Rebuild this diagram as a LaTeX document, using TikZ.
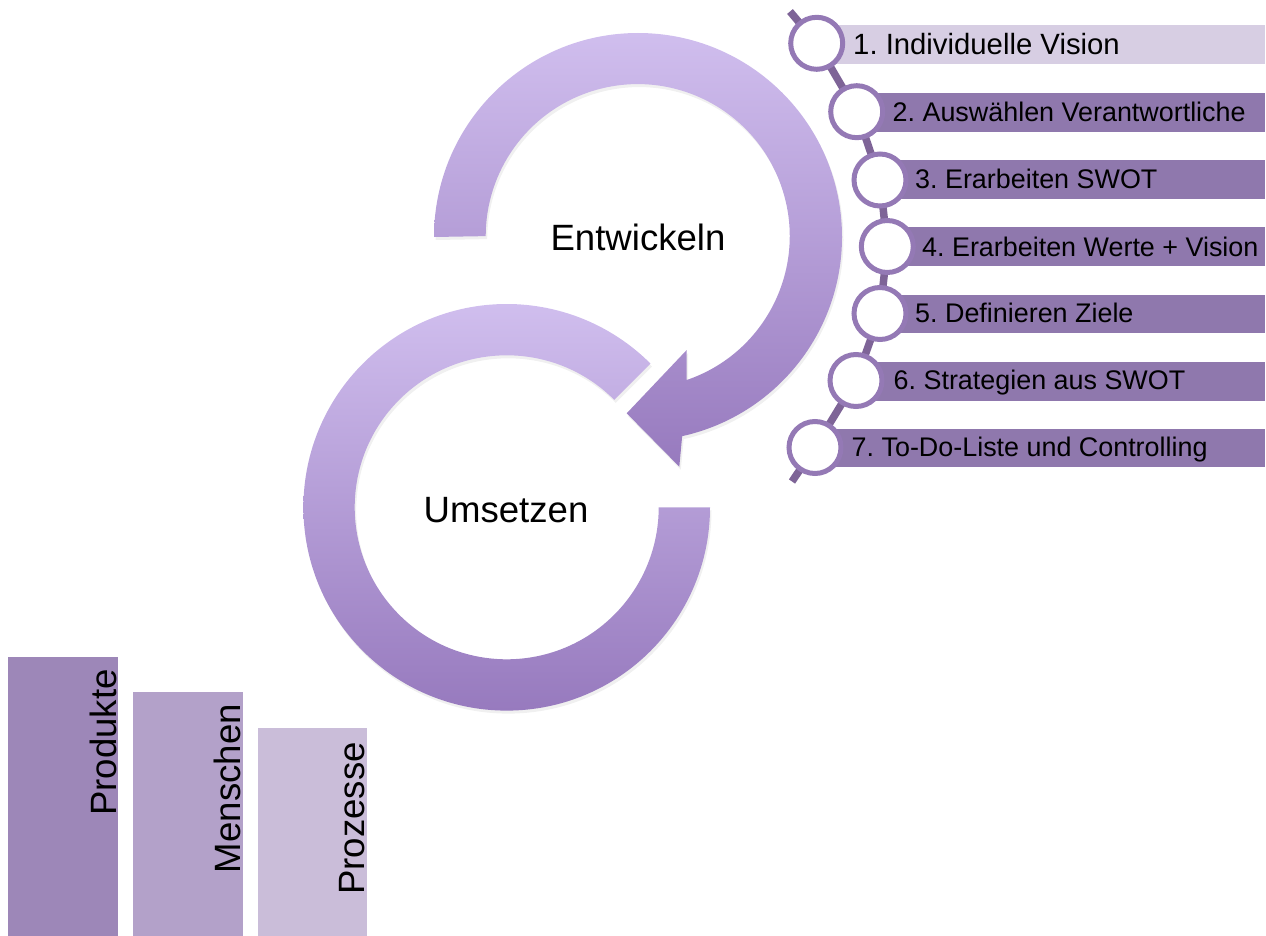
\documentclass[tikz,border=0pt]{standalone}
\usepackage{fontspec}
\setmainfont{Liberation Sans}
\usetikzlibrary{shadows}
\frenchspacing

\definecolor{arclight}{HTML}{D0BEEE}
\definecolor{arcdark}{HTML}{977ABE}
\definecolor{barpale}{HTML}{D7CEE3}
\definecolor{barmid}{HTML}{8F78AD}
\definecolor{ringcol}{HTML}{9479B5}
\definecolor{spinecol}{HTML}{7E6497}
\definecolor{colA}{HTML}{9D87B8}
\definecolor{colB}{HTML}{B3A1C9}
\definecolor{colC}{HTML}{CABDD9}

\tikzset{
  arcshape/.style={top color=arclight, bottom color=arcdark, draw=none,
    drop shadow={opacity=0.12, shadow xshift=1.5pt, shadow yshift=-3pt}},
  bigtext/.style={inner sep=0pt, font=\fontsize{36.6}{40}\selectfont},
  itemtext/.style={inner sep=0pt, anchor=base west, font=\fontsize{26.9}{30}\selectfont},
  ring/.style={circle, draw=ringcol, line width=5pt, fill=white,
    minimum size=52pt, inner sep=0pt},
  listbar/.style={fill=barmid},
  coltext/.style={rotate=90, anchor=base east, inner sep=0pt,
    font=\fontsize{36.6}{40}\selectfont}
}

\begin{document}
\begin{tikzpicture}[x=1pt, y=1pt]
\useasboundingbox (0,0) rectangle (1266,-936);

% lower loop: Umsetzen
\path[arcshape] (710,-507.3) arc[start angle=0, end angle=-315, radius=203.3]
  -- ++(225:51.3) arc[start angle=45, end angle=360, radius=152] -- cycle;
\node[bigtext, anchor=base] (umsetzen) at (506,-522.7) {Umsetzen};

% upper loop with arrow head: Entwickeln
\path[arcshape] (434,-237) arc[start angle=180, end angle=-77.5, radius=204]
  -- (679.3,-466.7) -- (626.7,-413.3) -- (686.7,-350) -- (686.7,-380)
  arc[start angle=-71.2, end angle=180, radius=152] -- cycle;
\node[bigtext, anchor=base] (entwickeln) at (638,-250) {Entwickeln};

% step list: circle markers on a curved spine
\coordinate (top) at (790,-11.5);
\coordinate (bottom) at (792,-481.5);
\coordinate (p1) at (816.7,-43.3);
\coordinate (p2) at (856.7,-111.7);
\coordinate (p3) at (880,-180);
\coordinate (p4) at (887.3,-246.5);
\coordinate (p5) at (880,-313.5);
\coordinate (p6) at (856,-380.5);
\coordinate (p7) at (815,-447.5);

\draw[spinecol, line width=7.5pt] (top) -- (p1) -- (p2) -- (p3) -- (p4)
  -- (p5) -- (p6) -- (p7) -- (bottom);

% bars behind the labels
\fill[barpale] (816.7,-25) rectangle (1265,-64);
\fill[listbar] (856.7,-92.7) rectangle (1265,-131.7);
\fill[listbar] (880,-160) rectangle (1265,-198.7);
\fill[listbar] (887.3,-227.5) rectangle (1265,-266);
\fill[listbar] (880,-294.5) rectangle (1265,-333);
\fill[listbar] (856,-361.7) rectangle (1265,-400.5);
\fill[listbar] (815,-428.5) rectangle (1265,-467.3);

\node[ring] (c1) at (p1) {};
\node[ring] (c2) at (p2) {};
\node[ring] (c3) at (p3) {};
\node[ring] (c4) at (p4) {};
\node[ring] (c5) at (p5) {};
\node[ring] (c6) at (p6) {};
\node[ring] (c7) at (p7) {};

\node[itemtext, font=\fontsize{29.3}{32}\selectfont] (t1) at (853,-55) {1. Individuelle Vision};
\node[itemtext] (t2) at (892.5,-121.7) {2. Auswählen Verantwortliche};
\node[itemtext] (t3) at (915,-188.3) {3. Erarbeiten SWOT};
\node[itemtext] (t4) at (922,-256) {4. Erarbeiten Werte + Vision};
\node[itemtext] (t5) at (915,-322.7) {5. Definieren Ziele};
\node[itemtext] (t6) at (893.5,-389.3) {6. Strategien aus SWOT};
\node[itemtext] (t7) at (851.5,-456.7) {7. To-Do-Liste und Controlling};

% three columns
\fill[colA] (8.3,-656.7) rectangle (118.3,-936);
\fill[colB] (133.3,-691.7) rectangle (242.7,-936);
\fill[colC] (257.7,-728.3) rectangle (366.7,-936);
\node[coltext] (produkte) at (116,-669) {Produkte};
\node[coltext] (menschen) at (240.5,-704) {Menschen};
\node[coltext] (prozesse) at (364,-742) {Prozesse};
\end{tikzpicture}
\end{document}
